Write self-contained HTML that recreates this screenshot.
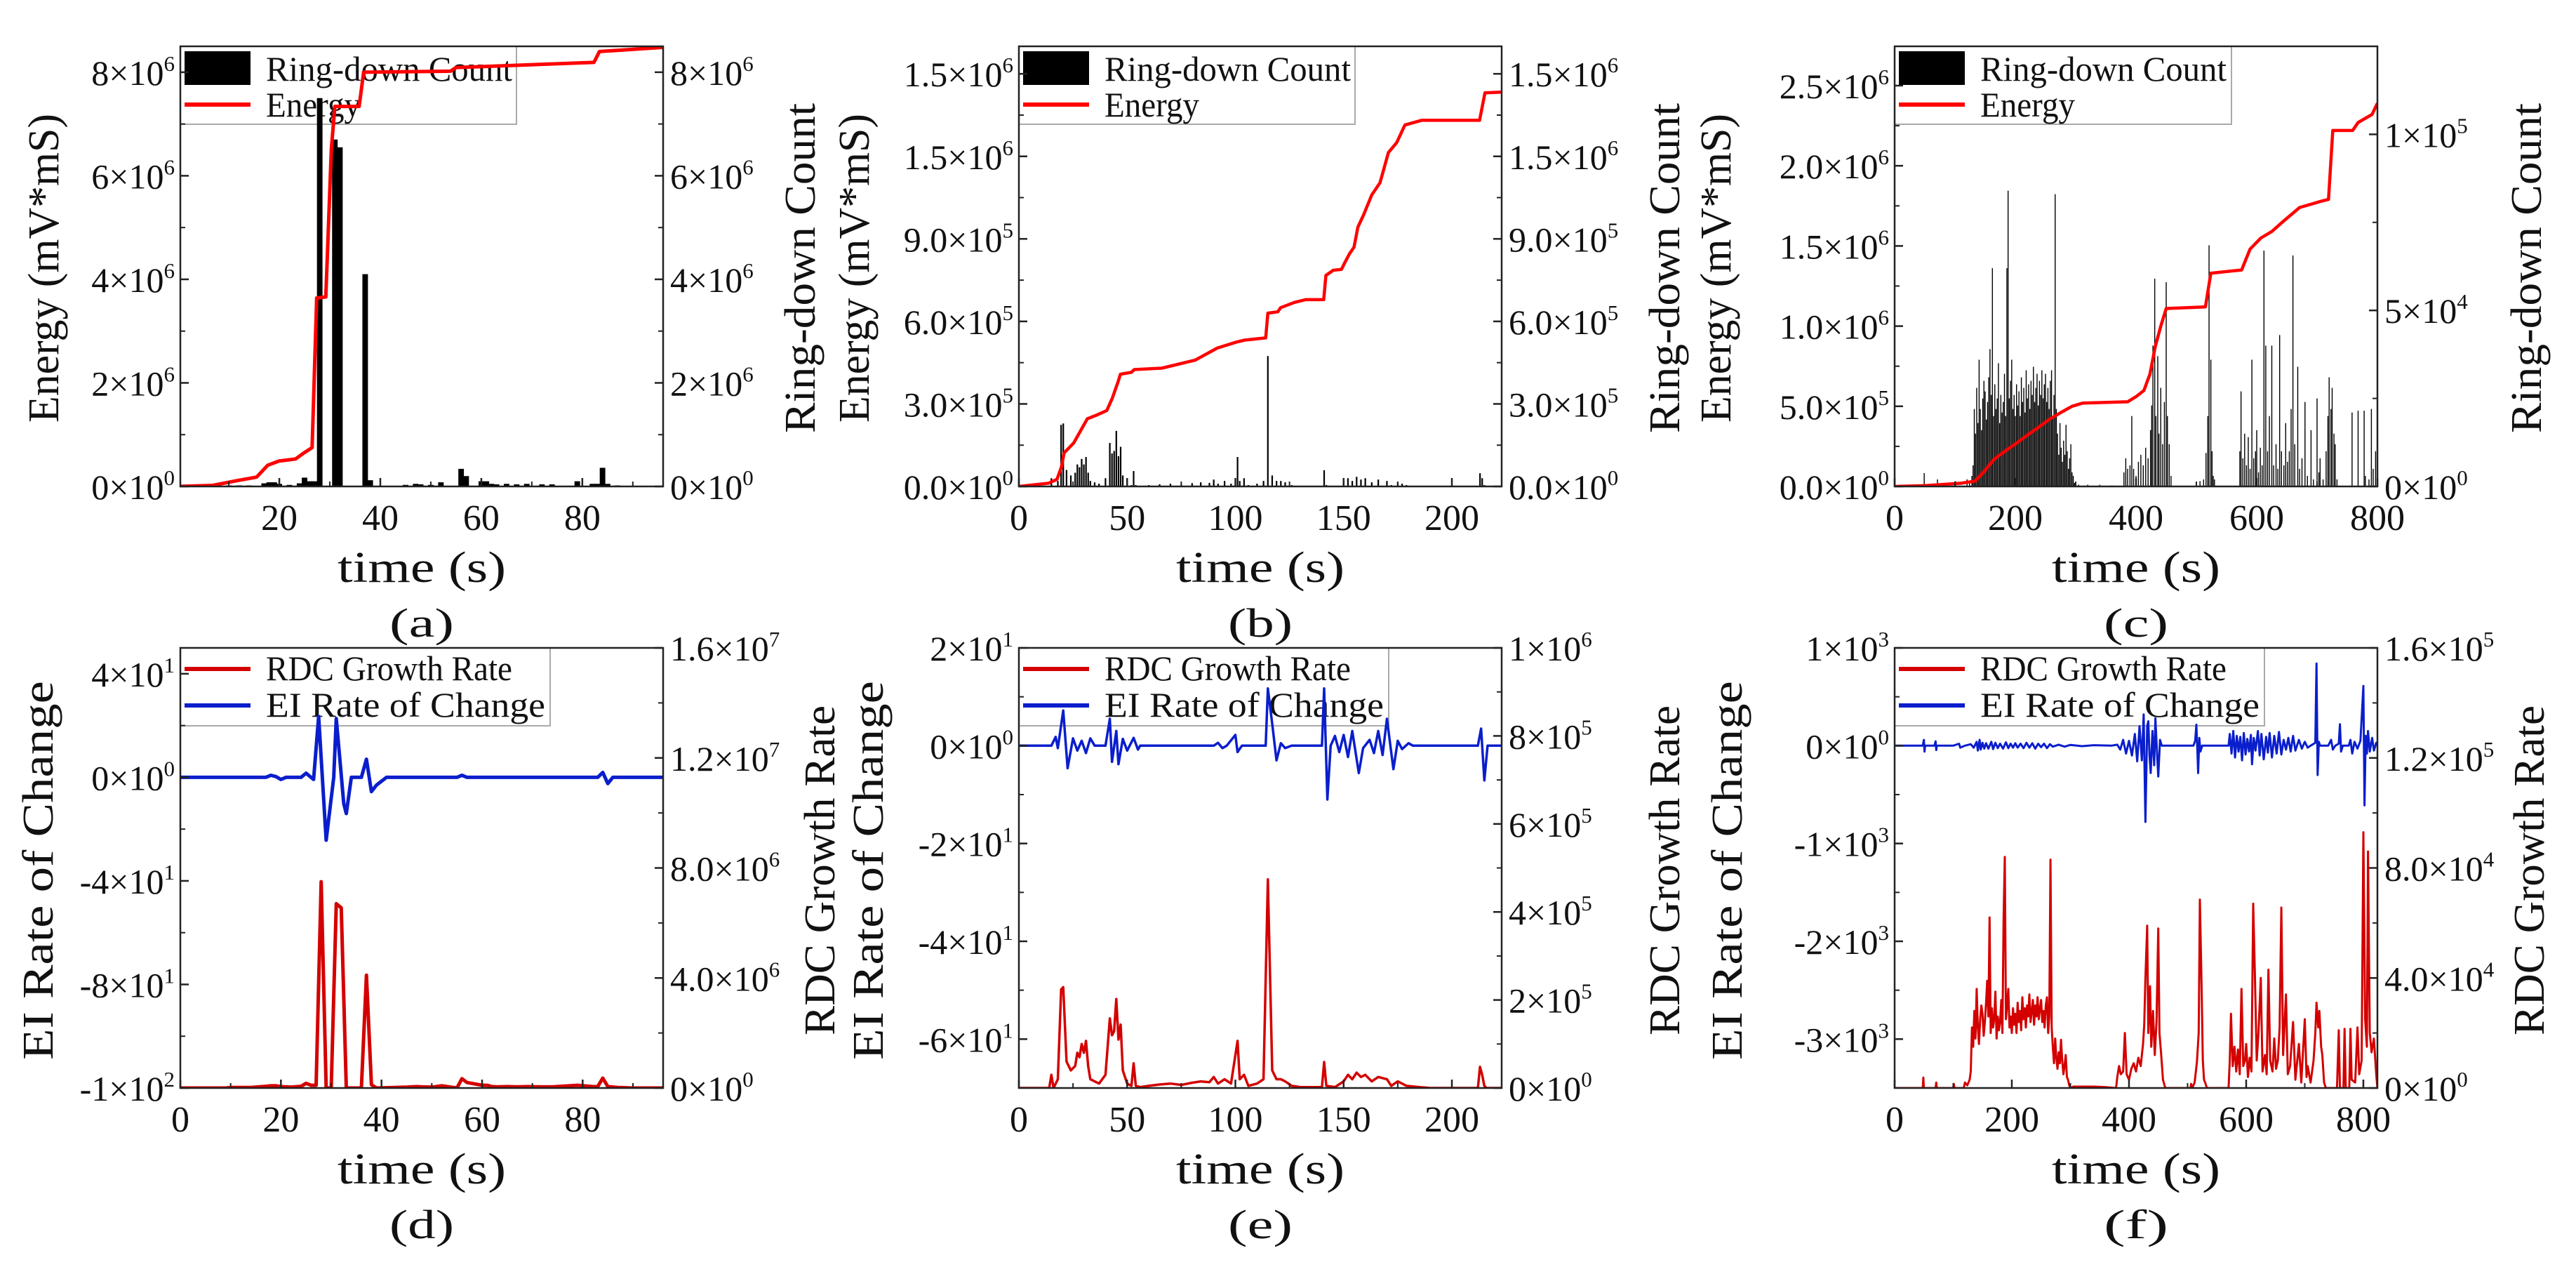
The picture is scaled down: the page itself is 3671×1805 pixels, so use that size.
<!DOCTYPE html>
<html><head><meta charset="utf-8"><style>
html,body{margin:0;padding:0;background:#fff;}
svg{display:block;font-family:"Liberation Serif","Noto Serif CJK SC",serif;}
</style></head><body>
<svg id="fig" xmlns="http://www.w3.org/2000/svg" width="3671" height="1805" viewBox="0 0 3671 1805"></svg>
<script>
// ===== DATA =====
const energyA=[[0,0],[6.8,0.02],[11,0.1],[15.5,0.18],[17.7,0.41],[19.9,0.49],[23.2,0.53],[24.9,0.65],[26.5,0.75],[27.4,3.64],[29.2,3.66],[30.3,6.52],[31,7.34],[35.8,7.34],[36.7,8.0],[53.9,8.02],[55,8.09],[82.3,8.19],[83.4,8.4],[96,8.48]];
const rdcA=[[0,0],[9,0],[10,0.02],[12,0.02],[14,0.02],[17,0.06],[18,0.08],[19,0.08],[20,0.05],[22,0.03],[24,0.06],[25,0.17],[26,0.1],[27,0.1],[28,7.5],[29,0],[30,0],[31,6.7],[32,6.55],[33,0],[36,0],[37,4.1],[38,0.12],[39,0],[45,0.03],[47,0.05],[48,0.04],[50,0.03],[52,0.08],[55,0],[56,0.34],[57,0.2],[60,0.1],[61,0.1],[62,0.05],[63,0.04],[65,0.05],[67,0.04],[69,0.05],[72,0.04],[74,0.04],[79,0.1],[82,0.05],[83,0.05],[84,0.36],[85,0.05],[87,0.02],[90,0],[96,0]];
const eiA=[[0,0],[17,0],[18,0.8],[19,0.3],[20,-0.8],[21,0],[24,0],[25,1.6],[26.5,-0.8],[27.5,23.5],[29,-24.3],[30.5,0],[31,22.7],[32.5,-10.2],[33,-14],[34,0],[36,0],[37,7],[38,-5.5],[39,-3],[41,0],[55,0],[56,0.8],[57,0],[83,0],[84,1.9],[85,-2.4],[86,0],[96,0]];
const energyB=[[0,0],[13.8,0.12],[17.6,0.26],[19.6,0.7],[20.9,1.22],[25.3,1.58],[31.6,2.46],[35.5,2.58],[40.6,2.76],[43.1,3.2],[45.7,3.78],[46.9,4.08],[52,4.15],[53.3,4.25],[66,4.3],[81.4,4.59],[91.6,5.03],[100.5,5.25],[104.3,5.32],[114,5.4],[115,6.3],[119.6,6.35],[120.9,6.5],[127.3,6.69],[132.4,6.79],[140.8,6.79],[141.8,7.67],[145.2,7.86],[149,7.89],[150.3,8.1],[152.8,8.47],[154.8,8.7],[156.6,9.43],[159.2,9.87],[163,10.6],[166.8,11.04],[170.7,12.14],[174.5,12.5],[178.3,13.14],[186,13.31],[212.8,13.31],[215.3,14.31],[223.7,14.34]];
const rdcB=[[0,0],[14,0],[15,0.3],[16,0],[18,0.2],[19.5,2.24],[20.5,2.29],[22,0.6],[24,0.4],[26,0.5],[27,0.8],[28,0.7],[29,1.0],[30,0.8],[31,1.07],[32,0.5],[33,0.2],[35,0.15],[37,0.1],[40,0.3],[42,1.58],[43,1.2],[44,1.29],[45,2.02],[46,1.1],[47,1.44],[48,0.4],[50,0.1],[52,0.05],[53,0.56],[54,0.05],[56,0.02],[60,0.05],[65,0.08],[70,0.1],[75,0.07],[80,0.12],[84,0.15],[88,0.13],[90,0.25],[92,0.1],[95,0.2],[98,0.1],[101,1.07],[102,0.2],[104,0.3],[106,0.05],[110,0.1],[113,0.2],[115,4.74],[117,0.4],[119,0.2],[121,0.2],[123,0.15],[126,0.05],[130,0.02],[140,0.02],[141,0.59],[142,0.05],[146,0.02],[150,0.15],[152,0.3],[154,0.2],[156,0.35],[158,0.25],[160,0.3],[163,0.15],[166,0.25],[170,0.2],[172,0.05],[175,0.15],[177,0.1],[179,0.05],[185,0.02],[190,0],[212,0],[213,0.48],[214,0.3],[215,0.05],[216,0],[223,0]];
const eiB=[[0,0],[15,0],[17,1.8],[18,-0.5],[20.5,7.2],[22.5,-4.6],[25,1.5],[27,-1],[29,1],[31,-1.5],[33,1.5],[35,0],[40,0],[42,5.5],[43,-3.3],[45,3],[46,-3.8],[48,1.4],[50,-1],[53,1.6],[55,-0.8],[56,0],[90,0],[92,0.6],[94,-0.5],[96,0],[100,2.2],[101,-1.3],[103,0],[114,0],[115,11.7],[117,4.5],[119,-3],[121,0.5],[123,-0.5],[126,0],[140,0],[141,11.7],[142.5,-11],[144,0],[146,2],[148,-1.3],[150,2.2],[152,-2.3],[154,3],[157,-5.6],[159,-0.5],[162,1.2],[164,-1.5],[166,3],[168,-1.9],[170,5.5],[173,-4.8],[175,1],[177,-0.7],[180,0.5],[182,0],[212,0],[213.5,3.5],[215,-7.1],[216.5,0],[223,0]];
const energyC=[[0,0],[50,0.05],[110,0.2],[133,0.33],[146,0.83],[165,1.7],[183,2.2],[202,2.7],[220,3.2],[239,3.7],[257,4.2],[275,4.6],[294,5.0],[312,5.2],[386,5.28],[400,5.6],[413,5.98],[423,7.0],[432,8.74],[441,10.0],[450,11.1],[515,11.2],[524,13.3],[575,13.5],[589,14.8],[607,15.5],[625,15.9],[643,16.5],[671,17.4],[708,17.8],[719,17.9],[726,22.2],[759,22.2],[768,22.7],[791,23.2],[800,23.9]];
const rdcC=[[0,0],[48,0],[49,0.38],[50,0],[70,0],[71,0.2],[72,0],[100,0],[101,0.15],[102,0],[118,0],[120,0.2],[124,0.1],[128,0.3],
[130,0.6],[132,2.2],[134,1.5],[136,2.8],[138,1.8],[140,3.6],[142,2.2],[144,1.6],[146,2.5],[148,3.0],[150,2.7],[152,1.9],[154,2.4],[156,3.1],[158,3.9],[160,2.6],[162,6.2],[164,2.0],[166,2.9],[168,2.2],[170,2.5],[172,3.5],[174,1.8],[176,2.6],[178,2.1],[180,2.4],[182,3.2],[184,2.0],[186,6.2],[188,8.4],[190,2.5],[192,3.0],[194,3.6],[196,2.2],[198,2.6],[200,2.0],[202,2.9],[204,2.3],[206,2.7],[208,2.0],[210,3.1],[212,2.4],[214,2.8],[216,2.1],[218,3.3],[220,2.5],[222,2.9],[224,2.2],[226,3.0],[228,2.6],[230,3.4],[232,2.4],[234,2.8],[236,3.2],[238,2.3],[240,3.0],[242,2.6],[244,3.3],[246,2.5],[248,2.9],[250,3.2],[252,2.4],[254,2.8],[256,2.2],[258,3.0],[260,3.3],[262,2.0],[264,2.6],[266,8.3],[268,2.2],[270,1.5],[272,0.9],[274,1.8],[276,1.1],[278,0.7],[280,1.3],[282,0.9],[284,1.75],[286,1.0],[288,0.5],[290,0.8],[292,1.2],[294,0.4],[296,0.3],[298,0.1],[300,0],
[305,0.05],[320,0.05],[340,0.05],[360,0.03],[378,0],[380,0.4],[383,0.8],[386,0.5],[390,0.6],[393,2.0],[396,0.5],[400,0.3],[404,0.7],[408,0.9],[412,0.6],[416,1.1],[420,0.8],[424,1.6],[426,2.3],[428,4.0],[431,5.9],[433,2.0],[436,3.7],[438,1.5],[441,2.8],[444,1.2],[447,2.4],[450,5.8],[452,2.0],[455,1.2],[458,0.3],[462,0],[505,0],[506,0.15],[508,0],[512,0.2],[516,0.95],[519,2.0],[521,6.85],[524,3.6],[526,1.0],[528,0.3],[530,0.2],[533,0],[570,0],[572,1.0],[574,2.7],[577,0.8],[580,1.5],[583,0.6],[586,1.4],[589,0.5],[592,3.6],[595,0.8],[598,1.0],[600,1.6],[603,0.4],[606,1.1],[609,0.6],[612,6.7],[615,4.0],[618,1.0],[621,2.0],[625,4.0],[628,0.6],[632,1.2],[635,0.5],[638,4.3],[641,1.0],[645,0.6],[648,1.8],[651,0.7],[654,1.0],[657,2.2],[660,6.56],[663,1.2],[668,3.4],[671,0.5],[675,0.8],[680,2.4],[684,0.3],[690,1.6],[694,0.2],[700,2.5],[703,0.4],[705,0.8],[710,0.2],[715,1.0],[718,2.0],[720,3.1],[723,2.2],[725,2.8],[728,1.5],[730,1.2],[733,0.2],[736,0],[755,0],[758,2.1],[760,0],[766,0],[768,2.15],[770,0],[776,0],[778,2.15],[780,0.3],[786,0.2],[790,2.2],[793,0.5],[797,1.0],[800,9.3],[803,2.5],[806,1.5],[808,8.6],[811,2.0],[814,1.3],[818,1.8],[822,0.5],[824,0]];
const eiC=[[0,0],[48,0],[50,60],[51,-60],[52,0],[68,0],[70,45],[71,-45],[72,0],[100,0],[110,20],[112,-20],[120,0],[130,15],[135,-20],[140,40],[142,-50],[145,60],[147,-40],[150,30],[153,-30],[156,25],[160,-30],[165,40],[168,-35],[172,30],[176,-25],[180,20],[185,-30],[190,35],[194,-25],[198,20],[202,-20],[206,25],[210,-20],[215,20],[220,-25],[225,30],[230,-20],[235,25],[240,-30],[245,20],[250,-15],[255,20],[260,-25],[265,15],[270,-10],[280,10],[290,-10],[300,8],[320,-5],[340,5],[370,0],[380,10],[385,-40],[390,60],[395,-80],[400,50],[405,-100],[410,120],[414,-160],[418,200],[422,-150],[425,320],[428,-780],[431,200],[433,250],[435,-100],[437,-280],[440,150],[443,-200],[445,280],[448,-100],[450,-315],[453,60],[456,0],[510,0],[513,50],[515,215],[517,-100],[518,-280],[520,80],[522,-60],[525,0],[570,0],[572,120],[575,-80],[578,150],[581,-120],[584,100],[587,-60],[590,90],[593,-150],[596,130],[599,-90],[602,70],[605,-60],[608,110],[610,-190],[613,80],[616,-50],[620,150],[623,-100],[626,120],[630,-140],[634,90],[637,-70],[640,130],[644,-120],[648,100],[652,-80],[656,140],[660,-90],[664,60],[668,-40],[672,80],[676,-60],[680,100],[684,-50],[690,60],[695,-30],[700,40],[705,-20],[710,0],[718,30],[720,840],[722,-300],[724,40],[726,0],[740,0],[745,60],[748,-40],[752,0],[758,20],[760,220],[762,-60],[765,0],[775,0],[778,60],[781,-80],[785,40],[790,-30],[795,50],[800,610],[802,-610],[804,100],[806,-80],[808,150],[811,-60],[815,80],[818,-50],[822,30],[824,0]];
const tickA=[0,2,4,6,8], tickALab=["0×10^0","2×10^6","4×10^6","6×10^6","8×10^6"];
const tickB=[0,3,6,9,12,15], tickBLab=["0.0×10^0","3.0×10^5","6.0×10^5","9.0×10^5","1.5×10^6","1.5×10^6"];
const tickCL=[0,5,10,15,20,25], tickCLLab=["0.0×10^0","5.0×10^5","1.0×10^6","1.5×10^6","2.0×10^6","2.5×10^6"];
const tickCR=[0,5,10], tickCRLab=["0×10^0","5×10^4","1×10^5"];
const tickDL=[40,0,-40,-80,-120], tickDLLab=["4×10^1","0×10^0","-4×10^1","-8×10^1","-1×10^2"];
const tickDR=[0,4,8,12,16], tickDRLab=["0×10^0","4.0×10^6","8.0×10^6","1.2×10^7","1.6×10^7"];
const tickEL=[20,0,-20,-40,-60], tickELLab=["2×10^1","0×10^0","-2×10^1","-4×10^1","-6×10^1"];
const tickER=[0,2,4,6,8,10], tickERLab=["0×10^0","2×10^5","4×10^5","6×10^5","8×10^5","1×10^6"];
const tickFL=[1000,0,-1000,-2000,-3000], tickFLLab=["1×10^3","0×10^0","-1×10^3","-2×10^3","-3×10^3"];
const tickFR=[0,4,8,12,16], tickFRLab=["0×10^0","4.0×10^4","8.0×10^4","1.2×10^5","1.6×10^5"];

// ===== DRAWING =====
const NS="http://www.w3.org/2000/svg";
const svg=document.getElementById('fig');
function el(tag,attrs,parent){const e=document.createElementNS(NS,tag);for(const k in attrs)e.setAttribute(k,attrs[k]);(parent||svg).appendChild(e);return e;}
function range(a,b,s){const r=[];for(let v=a;v<=b+1e-9;v+=s)r.push(+v.toFixed(6));return r;}
function label(g,x,y,str,anchor,size){
  const t=el('text',{x:x,y:y,'text-anchor':anchor,'font-size':size,fill:'#111'},g);
  
  
  const parts=str.split('^');
  const a=document.createElementNS(NS,'tspan');a.textContent=parts[0];t.appendChild(a);
  if(parts[1]){const b=document.createElementNS(NS,'tspan');b.setAttribute('font-size',size*0.62);b.setAttribute('dy',-size*0.4);b.textContent=parts[1];t.appendChild(b);}
  return t;
}
function vtitle(x,y,str,len,name){
  const t=el('text',{x:0,y:0,transform:`translate(${x},${y}) rotate(-90)`,'text-anchor':'middle','dominant-baseline':'central','font-size':62,textLength:len,lengthAdjust:'spacingAndGlyphs',fill:'#111'});
  
  
  t.textContent=str;
}
let clipId=0;
function panel(p){
  const g=el('g',{});
  
  
  p.sx=v=>p.x0+(v-p.xd[0])/(p.xd[1]-p.xd[0])*(p.x1-p.x0);
  p.syL=v=>p.y1-(v-p.yL[0])/(p.yL[1]-p.yL[0])*(p.y1-p.y0);
  p.syR=v=>p.y1-(v-p.yR[0])/(p.yR[1]-p.yR[0])*(p.y1-p.y0);
  const lg=el('g',{},g);
  
  
  el('rect',{x:p.x0,y:p.y0,width:p.legW,height:111,fill:'#fff',stroke:'#aaa','stroke-width':2},lg);
  p.legend.forEach((it)=>{
    if(it.type==='bar'){const r=el('rect',{x:p.x0+6,y:p.y0+7,width:94,height:48,fill:'#000'},lg);}
    else{const l=el('line',{x1:p.x0+6,x2:p.x0+100,y1:p.y0+it.ly,y2:p.y0+it.ly,stroke:it.color,'stroke-width':it.w},lg);}
    const t=el('text',{x:p.x0+122,y:p.y0+it.ty,'font-size':50,textLength:it.len,lengthAdjust:'spacingAndGlyphs',fill:'#111'},lg);
    
    
    t.textContent=it.text;
  });
  const cid='c'+(clipId++);
  const cp=el('clipPath',{id:cid},g);el('rect',{x:p.x0,y:p.y0,width:p.x1-p.x0,height:p.y1-p.y0},cp);
  const dg=el('g',{'clip-path':`url(#${cid})`},g);
  p.series.forEach(s=>{
    const sy=s.axis==='R'?p.syR:p.syL;
    if(s.type==='bar'){
      s.data.forEach(d=>{ if(d[1]<=0)return;
        const xa=p.sx(d[0]-s.bw/2),xb=p.sx(d[0]+s.bw/2);const w=Math.max(xb-xa,s.minW);
        const r=el('rect',{x:(xa+xb)/2-w/2,y:sy(d[1]),width:w,height:p.y1-sy(d[1]),fill:'#000'},dg);
        
        
      });
    }else{
      const pts=s.data.map(d=>p.sx(d[0]).toFixed(1)+','+sy(d[1]).toFixed(1)).join(' ');
      const pl=el('polyline',{points:pts,fill:'none',stroke:s.color,'stroke-width':s.w,'stroke-linejoin':'round'},dg);
      
      
    }
  });
  const fr=el('rect',{x:p.x0,y:p.y0,width:p.x1-p.x0,height:p.y1-p.y0,fill:'none',stroke:'#222','stroke-width':2.5},g);
  
  
  const xg=el('g',{},g);
  
  
  p.xMinor.forEach(v=>el('line',{x1:p.sx(v),x2:p.sx(v),y1:p.y1,y2:p.y1-7,stroke:'#222','stroke-width':2},xg));
  p.xTicks.forEach(v=>{el('line',{x1:p.sx(v),x2:p.sx(v),y1:p.y1,y2:p.y1-12,stroke:'#222','stroke-width':2.5},xg);label(xg,p.sx(v),p.y1+62,String(v),'middle',52);});
  const lgY=el('g',{},g);
  
  
  p.lMinor.forEach(v=>el('line',{x1:p.x0,x2:p.x0+7,y1:p.syL(v),y2:p.syL(v),stroke:'#222','stroke-width':2},lgY));
  p.lTicks.forEach((v,i)=>{el('line',{x1:p.x0,x2:p.x0+12,y1:p.syL(v),y2:p.syL(v),stroke:'#222','stroke-width':2.5},lgY);label(lgY,p.x0-8,p.syL(v)+18,p.lLab[i],'end',50);});
  const rgY=el('g',{},g);
  
  
  p.rMinor.forEach(v=>el('line',{x1:p.x1,x2:p.x1-7,y1:p.syR(v),y2:p.syR(v),stroke:'#222','stroke-width':2},rgY));
  p.rTicks.forEach((v,i)=>{el('line',{x1:p.x1,x2:p.x1-12,y1:p.syR(v),y2:p.syR(v),stroke:'#222','stroke-width':2.5},rgY);label(rgY,p.x1+10,p.syR(v)+18,p.rLab[i],'start',50);});
  const cx=(p.x0+p.x1)/2;
  const xt=el('text',{x:cx,y:p.y1+136,'text-anchor':'middle','font-size':62,textLength:240,lengthAdjust:'spacingAndGlyphs',fill:'#111'},g);
  
  
  xt.textContent='time (s)';
  const pl=el('text',{x:cx,y:p.y1+214,'text-anchor':'middle','font-size':58,textLength:92,lengthAdjust:'spacingAndGlyphs',fill:'#111'},g);
  
  
  pl.textContent=p.tag;
}
const legTop=[{type:'bar',text:'Ring-down Count',ty:49,len:351},{type:'line',text:'Energy',ly:83,ty:100,len:135,color:'#ff0000',w:6}];
const legBot=[{type:'line',text:'RDC Growth Rate',ly:30,ty:46,len:351,color:'#d40000',w:6},{type:'line',text:'EI Rate of Change',ly:82,ty:98,len:398,color:'#0a1ecc',w:6}];
const yT=66,yB=693,yT2=923,yB2=1550;
panel({name:'panel-a',tag:'(a)',x0:257,x1:945,y0:yT,y1:yB,xd:[0.4,96],yL:[0,8.5],yR:[0,8.5],xTicks:[20,40,60,80],xMinor:[10,30,50,70,90],
 lTicks:tickA,lLab:tickALab,lMinor:range(1,8,2),rTicks:tickA,rLab:tickALab,rMinor:range(1,8,2),legW:479,legend:legTop,
 series:[{type:'bar',axis:'R',data:rdcA,bw:1.1,minW:2.2},{type:'line',axis:'L',data:energyA,color:'#ff0000',w:5,name:'energy-line'}]});
panel({name:'panel-b',tag:'(b)',x0:1452,x1:2140,y0:yT,y1:yB,xd:[0,223],yL:[0,16],yR:[0,16],xTicks:[0,50,100,150,200],xMinor:[25,75,125,175],
 lTicks:tickB,lLab:tickBLab,lMinor:range(1.5,15,3),rTicks:tickB,rLab:tickBLab,rMinor:range(1.5,15,3),legW:479,legend:legTop,
 series:[{type:'bar',axis:'R',data:rdcB,bw:0.7,minW:2.2},{type:'line',axis:'L',data:energyB,color:'#ff0000',w:4.5,name:'energy-line'}]});
panel({name:'panel-c',tag:'(c)',x0:2700,x1:3388,y0:yT,y1:yB,xd:[0,800],yL:[0,27.45],yR:[0,12.5],xTicks:[0,200,400,600,800],xMinor:[100,300,500,700],
 lTicks:tickCL,lLab:tickCLLab,lMinor:range(2.5,25,5),rTicks:tickCR,rLab:tickCRLab,rMinor:[2.5,7.5],legW:480,legend:legTop,
 series:[{type:'bar',axis:'R',data:rdcC,bw:0.6,minW:1.4},{type:'line',axis:'L',data:energyC,color:'#ff0000',w:4.5,name:'energy-line'}]});
panel({name:'panel-d',tag:'(d)',x0:257,x1:945,y0:yT2,y1:yB2,xd:[0,96],yL:[-120,50],yR:[0,16],xTicks:[0,20,40,60,80],xMinor:[10,30,50,70,90],
 lTicks:tickDL,lLab:tickDLLab,lMinor:[20,-20,-60,-100],rTicks:tickDR,rLab:tickDRLab,rMinor:[2,6,10,14],legW:527,legend:legBot,
 series:[{type:'line',axis:'R',data:rdcA,color:'#d40000',w:5,name:'rdc-growth-line'},{type:'line',axis:'L',data:eiA,color:'#0a1ecc',w:5,name:'ei-rate-line'}]});
panel({name:'panel-e',tag:'(e)',x0:1452,x1:2140,y0:yT2,y1:yB2,xd:[0,223],yL:[-70,20],yR:[0,10],xTicks:[0,50,100,150,200],xMinor:[25,75,125,175],
 lTicks:tickEL,lLab:tickELLab,lMinor:[10,-10,-30,-50],rTicks:tickER,rLab:tickERLab,rMinor:[1,3,5,7,9],legW:527,legend:legBot,
 series:[{type:'line',axis:'R',data:rdcB,color:'#d40000',w:3.5,name:'rdc-growth-line'},{type:'line',axis:'L',data:eiB,color:'#0a1ecc',w:3.5,name:'ei-rate-line'}]});
panel({name:'panel-f',tag:'(f)',x0:2700,x1:3388,y0:yT2,y1:yB2,xd:[0,824],yL:[-3500,1000],yR:[0,16],xTicks:[0,200,400,600,800],xMinor:[100,300,500,700],
 lTicks:tickFL,lLab:tickFLLab,lMinor:[500,-500,-1500,-2500],rTicks:tickFR,rLab:tickFRLab,rMinor:[2,6,10,14],legW:527,legend:legBot,
 series:[{type:'line',axis:'R',data:rdcC,color:'#d40000',w:3,name:'rdc-growth-line'},{type:'line',axis:'L',data:eiC,color:'#0a1ecc',w:3,name:'ei-rate-line'}]});
vtitle(63,382,'Energy (mV*mS)',440,'y-axis-title-left');
vtitle(1141,382,'Ring-down Count',470,'y-axis-title-right');
vtitle(1218,382,'Energy (mV*mS)',440,'y-axis-title-left');
vtitle(2373,382,'Ring-down Count',470,'y-axis-title-right');
vtitle(2446,382,'Energy (mV*mS)',440,'y-axis-title-left');
vtitle(3601,382,'Ring-down Count',470,'y-axis-title-right');
vtitle(55,1240,'EI Rate of Change',540,'y-axis-title-left');
vtitle(1169,1240,'RDC Growth Rate',470,'y-axis-title-right');
vtitle(1238,1240,'EI Rate of Change',540,'y-axis-title-left');
vtitle(2373,1240,'RDC Growth Rate',470,'y-axis-title-right');
vtitle(2462,1240,'EI Rate of Change',540,'y-axis-title-left');
vtitle(3605,1240,'RDC Growth Rate',470,'y-axis-title-right');
</script>
</body></html>
